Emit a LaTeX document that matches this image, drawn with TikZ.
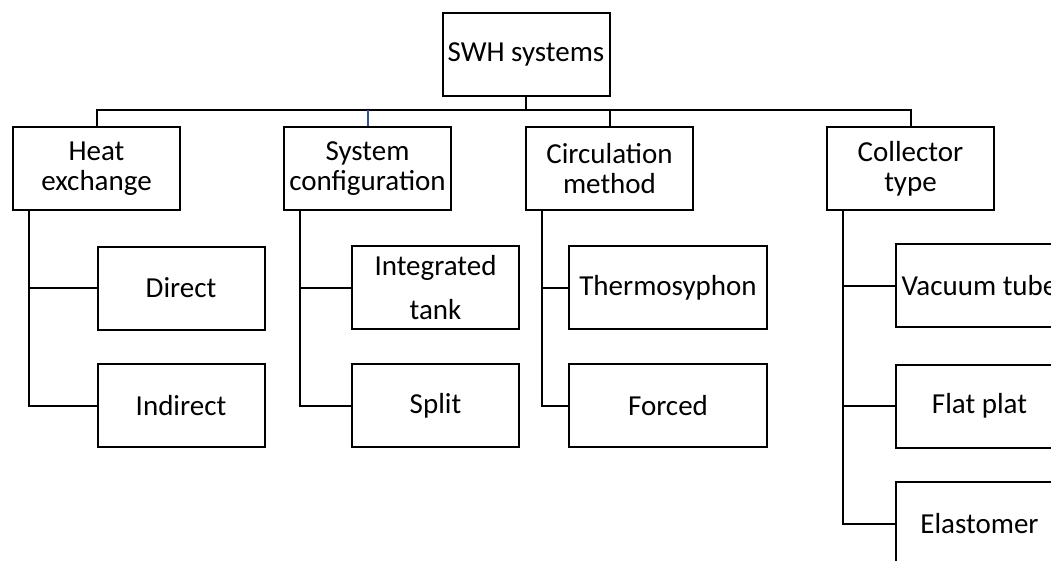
\documentclass[tikz,border=0pt]{standalone}
\usepackage{fontspec}
\setmainfont{Carlito}
\usepackage{xcolor}
\usepackage{tikz}
\usetikzlibrary{positioning, shapes, calc}
\definecolor{stemblue}{rgb}{0.18, 0.33, 0.59}

\begin{document}
\begin{tikzpicture}[x=1pt, y=-1pt, line width=2pt,
	box/.style={draw, rectangle, minimum width=167pt, minimum height=83pt, inner sep=0pt, align=center, font=\fontsize{29}{30}\selectfont},
	widebox/.style={box, minimum width=198pt}]
	\clip (0,0) rectangle (1051,560);
	\useasboundingbox (0,0) rectangle (1051,560);
	
	\node[box] (root) at (526,54.5) {SWH systems};
	
	\node[box] (heat) at (96.5,168.5) {Heat\\exchange};
	\node[box] (sys) at (367.5,168.5) {System\\configuration};
	\node[box] (circ) at (609.5,168.5) {Circulation\\method};
	\node[box] (coll) at (910.5,168.5) {Collector\\type};
	
	\node[box] (direct) at (181,288) {Direct};
	\node[box] (indirect) at (181,405.5) {Indirect};
	
	\node[box, font=\fontsize{29}{44}\selectfont] (integrated) at (435.5,287.5) {Integrated\\tank};
	\node[box] (split) at (435.5,405.5) {Split};
	
	\node[widebox] (thermo) at (668,287.5) {Thermosyphon};
	\node[widebox] (forced) at (668,405.5) {Forced};
	
	\node[box] (vacuum) at (979.5,285.5) {Vacuum tube};
	\node[box] (flat) at (979.5,406) {Flat plat};
	\node[box] (elast) at (979.5,523.5) {Elastomer};
	
	\coordinate (bus) at (526,110);
	\draw (root.south) -- (bus);
	\draw (heat.north) |- (coll.north |- bus) -- (coll.north);
	\draw[stemblue] (sys.north) -- (sys.north |- bus);
	\draw (circ.north) -- (circ.north |- bus);
	
	\draw (direct.west) -| ([xshift=17pt]heat.south west);
	\draw (indirect.west) -| ([xshift=17pt]heat.south west);
	
	\draw (integrated.west) -| ([xshift=17pt]sys.south west);
	\draw (split.west) -| ([xshift=17pt]sys.south west);
	
	\draw (thermo.west) -| ([xshift=17pt]circ.south west);
	\draw (forced.west) -| ([xshift=17pt]circ.south west);
	
	\draw (vacuum.west) -| ([xshift=17pt]coll.south west);
	\draw (flat.west) -| ([xshift=17pt]coll.south west);
	\draw (elast.west) -| ([xshift=17pt]coll.south west);
\end{tikzpicture}
\end{document}
